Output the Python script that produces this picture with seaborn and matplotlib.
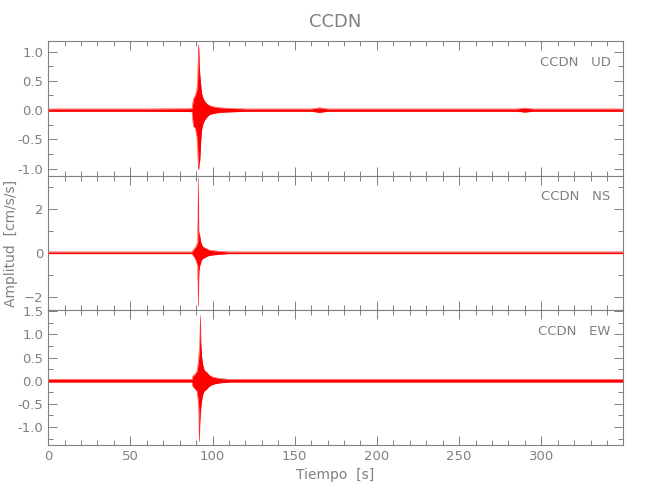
import numpy as np
import pandas as pd
import seaborn as sns
import matplotlib.pyplot as plt
from matplotlib.ticker import MultipleLocator

# Envelope of each component (time in s, amplitude in cm/s/s)
ud_t = [0, 30, 60, 87.5, 88.0, 88.5, 89.5, 90.5, 91.0, 91.3, 91.6, 91.9, 92.3, 92.8, 93.3, 94, 95, 96.5,
        98, 100, 103, 107, 112, 120, 160, 165, 170, 285, 290, 295, 350]
ud_up = [.02, .02, .02, .025, .12, .2, .25, .35, .55, .90, 1.12, .80, .60, .45, .30, .22, .16, .11,
         .08, .06, .045, .035, .03, .02, .02, .04, .02, .02, .035, .02, .02]
ud_lo = [-.02, -.02, -.02, -.025, -.18, -.28, -.30, -.45, -.70, -.95, -1.02, -.90, -.85, -.55, -.35, -.25, -.18, -.12,
         -.08, -.06, -.045, -.035, -.03, -.02, -.02, -.04, -.02, -.02, -.035, -.02, -.02]

ns_t = [0, 87.5, 88, 89, 90, 91.0, 91.4, 91.6, 91.8, 92.2, 92.8, 93.5, 94.5, 96, 98, 100, 104, 110, 350]
ns_up = [.04, .04, .1, .2, .3, .5, 3.4, 1.0, .9, .8, .5, .35, .25, .2, .12, .1, .07, .04, .04]
ns_lo = [-.04, -.04, -.1, -.2, -.35, -.6, -2.45, -1.2, -.8, -.6, -.45, -.3, -.25, -.18, -.12, -.1, -.07, -.04, -.04]

ew_t = [0, 87.5, 88, 89.5, 90.5, 91.2, 91.6, 92.0, 92.3, 92.6, 92.9, 93.3, 94, 95, 96.5, 98, 100, 104, 110, 350]
ew_up = [.03, .03, .1, .15, .2, .35, .5, .7, .9, 1.41, .8, .55, .35, .22, .18, .12, .08, .05, .03, .03]
ew_lo = [-.03, -.03, -.12, -.18, -.22, -.4, -.6, -1.32, -.9, -.7, -.6, -.45, -.3, -.22, -.18, -.12, -.08, -.05, -.03, -.03]

station = 'CCDN'
components = ['UD', 'NS', 'EW']
ylims = [(-1.12, 1.18), (-2.62, 3.51), (-1.39, 1.52)]
ymajor = [0.5, 2, 0.5]
yminor = [0.25, 1, 0.25]

sns.set_style('ticks')
plt.rcParams['font.family'] = ['Liberation Sans Narrow', 'DejaVu Sans']
grey = '#808080'

fig, axes = plt.subplots(3, 1, figsize=(6.5, 5), dpi=100, sharex=True)
fig.subplots_adjust(left=0.074, right=0.958, top=0.918, bottom=0.11, hspace=0)

envs = [(ud_t, ud_up, ud_lo), (ns_t, ns_up, ns_lo), (ew_t, ew_up, ew_lo)]
for ax, comp, (t, up, lo), yl, ym, yn in zip(axes, components, envs, ylims, ymajor, yminor):
    df = pd.DataFrame({'t': t, 'up': up, 'lo': lo})
    ax.fill_between(df['t'], df['lo'], df['up'], color='red', lw=0)
    sns.lineplot(data=df, x='t', y='up', ax=ax, color='red', lw=0.3)
    sns.lineplot(data=df, x='t', y='lo', ax=ax, color='red', lw=0.3)
    ax.set_xlim(0, 349.5)
    ax.set_ylim(*yl)
    ax.set_xlabel('')
    ax.set_ylabel('')
    ax.xaxis.set_major_locator(MultipleLocator(50))
    ax.xaxis.set_minor_locator(MultipleLocator(10))
    ax.yaxis.set_major_locator(MultipleLocator(ym))
    ax.yaxis.set_minor_locator(MultipleLocator(yn))
    if comp != 'NS':
        ax.yaxis.set_major_formatter(plt.FormatStrFormatter('%.1f'))
    ax.tick_params(which='both', direction='in', top=True, right=True, color=grey,
                   labelcolor=grey, labelsize=9.5)
    ax.tick_params(which='major', length=6.5, width=0.7)
    ax.tick_params(which='minor', length=3.5, width=0.7)
    for s in ax.spines.values():
        s.set_color(grey)
        s.set_linewidth(0.8)
    ax.text(0.979, 0.843, f'{station}   {comp}', transform=ax.transAxes,
            ha='right', va='center', color=grey, fontsize=9.5)

axes[0].set_title(station, color=grey, fontsize=13, pad=10)
axes[1].set_ylabel('Amplitud  [cm/s/s]', color=grey, fontsize=10)
axes[2].set_xlabel('Tiempo  [s]', color=grey, fontsize=10)

fig.savefig('out.png', dpi=100)
